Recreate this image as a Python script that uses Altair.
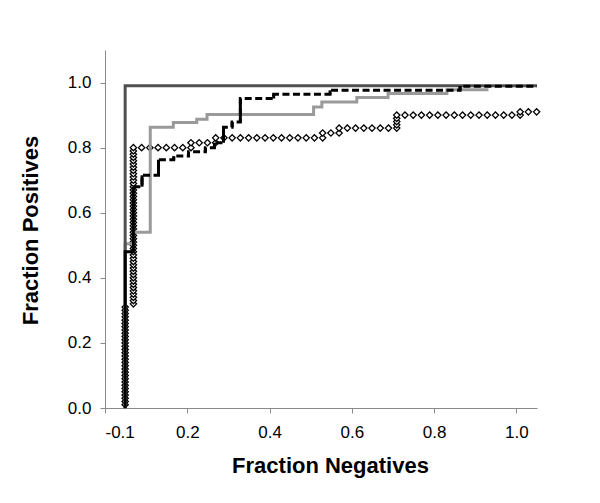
import altair as alt
import pandas as pd

# Perfect classifier (dark gray solid)
dark_x = [0.049, 0.049, 1.05]
dark_y = [0.0, 0.99, 0.99]

# Light gray solid step curve
gray_x = [0.049, 0.049, 0.069, 0.069, 0.11, 0.11, 0.166, 0.166, 0.223, 0.223, 0.248, 0.248,
          0.507, 0.507, 0.527, 0.527, 0.612, 0.612, 0.688, 0.688, 0.831, 0.831, 0.932]
gray_y = [0.0, 0.505, 0.505, 0.54, 0.54, 0.863, 0.863, 0.877, 0.877, 0.887, 0.887, 0.902,
          0.902, 0.925, 0.925, 0.94, 0.94, 0.954, 0.954, 0.966, 0.966, 0.978, 0.978]

# Black step curve (solid start, dashed afterwards)
black_x = [0.049, 0.049, 0.069, 0.069]
black_y = [0.0, 0.48, 0.48, 0.68]
dash_x = [0.069, 0.09, 0.09, 0.13, 0.13, 0.167, 0.167, 0.203, 0.203,
          0.244, 0.244, 0.266, 0.266, 0.288, 0.288, 0.309, 0.309, 0.329, 0.329, 0.41, 0.41,
          0.547, 0.547, 0.863, 0.863, 1.05]
dash_y = [0.68, 0.68, 0.715, 0.715, 0.763, 0.763, 0.774, 0.774, 0.787,
          0.787, 0.80, 0.80, 0.815, 0.815, 0.863, 0.863, 0.879, 0.879, 0.951, 0.951, 0.964,
          0.964, 0.976, 0.976, 0.989, 0.989]

# Open-diamond series: (x, [y values at that x])
diamond_cols = [
    (0.049, [0.01, 0.02, 0.03, 0.04, 0.05, 0.06, 0.07, 0.08, 0.09, 0.10, 0.11, 0.12, 0.13,
             0.14, 0.15, 0.16, 0.17, 0.18, 0.19, 0.20, 0.21, 0.22, 0.23, 0.24, 0.25, 0.26,
             0.27, 0.28, 0.29, 0.30, 0.31]),
    (0.069, [0.32, 0.33, 0.34, 0.35, 0.36, 0.37, 0.38, 0.39, 0.40, 0.41, 0.42, 0.43, 0.44,
             0.45, 0.46, 0.47, 0.48, 0.49, 0.50, 0.51, 0.52, 0.53, 0.54, 0.55, 0.56, 0.57,
             0.58, 0.59, 0.60, 0.61, 0.62, 0.63, 0.64, 0.65, 0.66, 0.67, 0.68, 0.69, 0.70,
             0.71, 0.72, 0.73, 0.74, 0.75, 0.76, 0.77, 0.78, 0.79, 0.80]),
    (0.089, [0.80]), (0.109, [0.80]), (0.129, [0.80]), (0.149, [0.80]),
    (0.169, [0.80]), (0.189, [0.80]), (0.209, [0.80, 0.815]), (0.229, [0.815]),
    (0.249, [0.815]), (0.269, [0.815, 0.83]), (0.289, [0.83]), (0.309, [0.83]),
    (0.329, [0.83]), (0.349, [0.83]), (0.369, [0.83]), (0.389, [0.83]),
    (0.409, [0.83]), (0.429, [0.83]), (0.449, [0.83]), (0.469, [0.83]),
    (0.489, [0.83]), (0.509, [0.83]), (0.529, [0.83, 0.845]), (0.549, [0.845]),
    (0.569, [0.845, 0.86]), (0.589, [0.86]), (0.609, [0.86]), (0.629, [0.86]),
    (0.649, [0.86]), (0.669, [0.86]), (0.689, [0.86]),
    (0.709, [0.86, 0.87, 0.88, 0.89, 0.90]),
    (0.729, [0.90]), (0.749, [0.90]), (0.769, [0.90]), (0.789, [0.90]),
    (0.809, [0.90]), (0.829, [0.90]), (0.849, [0.90]), (0.869, [0.90]),
    (0.889, [0.90]), (0.909, [0.90]), (0.929, [0.90]), (0.949, [0.90]),
    (0.969, [0.90]), (0.989, [0.90]), (1.009, [0.90, 0.91]), (1.029, [0.91]),
    (1.049, [0.91]),
]

x_ticks = [0.0, 0.2, 0.4, 0.6, 0.8, 1.0]
y_ticks = [0.0, 0.2, 0.4, 0.6, 0.8, 1.0]

FONT = "Liberation Sans"
AX = "#8a8a8a"


def line_df(xs, ys):
    return pd.DataFrame({"x": xs, "y": ys, "i": list(range(len(xs)))})


drows = []
for xv, ys in diamond_cols:
    for yv in ys:
        drows.append({"x": xv, "y": yv})
diam_df = pd.DataFrame(drows)

# vertical risers of the dashed curve (drawn solid, as in the original rendering)
vrows = []
for k in range(len(dash_x) - 1):
    if dash_x[k] == dash_x[k + 1]:
        vrows.append({"x": dash_x[k], "y": dash_y[k], "y2": dash_y[k + 1]})
vert_df = pd.DataFrame(vrows)

xscale = alt.Scale(domain=[0, 1.05], nice=False, zero=False)
yscale = alt.Scale(domain=[0, 1.1], nice=False, zero=False)

xaxis = alt.Axis(
    values=x_ticks, grid=False, domainColor=AX, tickColor=AX, tickSize=5,
    labelExpr="datum.value == 0 ? '-0.1' : format(datum.value, '.1f')",
    labelFont=FONT, labelFontSize=17, labelColor="black", labelPadding=11,
    title="Fraction Negatives", titleFont=FONT, titleFontSize=22, titleFontWeight="bold",
    titleColor="black", titleX=225, titleY=57, titleBaseline="middle", titleAlign="center",
)
yaxis = alt.Axis(
    values=y_ticks, grid=False, domainColor=AX, tickColor=AX, tickSize=5, format=".1f",
    labelFont=FONT, labelFontSize=17, labelColor="black", labelPadding=9,
    title="Fraction Positives", titleFont=FONT, titleFontSize=22, titleFontWeight="bold",
    titleColor="black", titleX=-75, titleY=180, titleBaseline="middle", titleAlign="center",
    titleAngle=-90,
)

diamonds = alt.Chart(diam_df).mark_point(
    shape="diamond", size=40, filled=False, fill="white", fillOpacity=1,
    stroke="black", strokeWidth=1.3, opacity=1,
).encode(
    x=alt.X("x:Q", scale=xscale, axis=xaxis),
    y=alt.Y("y:Q", scale=yscale, axis=yaxis),
)

gray = alt.Chart(line_df(gray_x, gray_y)).mark_line(
    color="#9a9a9a", strokeWidth=3
).encode(x=alt.X("x:Q", scale=xscale), y=alt.Y("y:Q", scale=yscale), order="i:Q")

dark = alt.Chart(line_df(dark_x, dark_y)).mark_line(
    color="#505050", strokeWidth=3
).encode(x=alt.X("x:Q", scale=xscale), y=alt.Y("y:Q", scale=yscale), order="i:Q")

black = alt.Chart(line_df(black_x, black_y)).mark_line(
    color="black", strokeWidth=3
).encode(x=alt.X("x:Q", scale=xscale), y=alt.Y("y:Q", scale=yscale), order="i:Q")

dashed = alt.Chart(line_df(dash_x, dash_y)).mark_line(
    color="black", strokeWidth=3, strokeDash=[7, 3.5]
).encode(x=alt.X("x:Q", scale=xscale), y=alt.Y("y:Q", scale=yscale), order="i:Q")

risers = alt.Chart(vert_df).mark_rule(color="black", strokeWidth=3).encode(
    x=alt.X("x:Q", scale=xscale), y=alt.Y("y:Q", scale=yscale), y2="y2:Q"
)

chart = alt.layer(diamonds, gray, dark, black, dashed, risers).properties(
    width=432, height=358,
    autosize=alt.AutoSizeParams(type="none"),
    padding={"left": 97, "top": 42, "right": 50, "bottom": 80},
    background="white",
).configure_view(stroke=None)

chart.save("out.html", embed_options={"renderer": "svg", "actions": False})
